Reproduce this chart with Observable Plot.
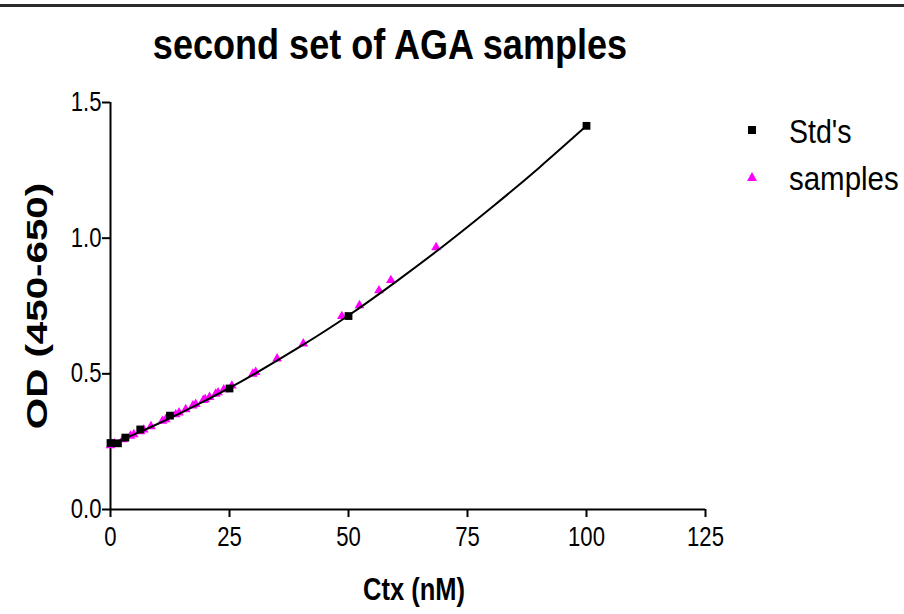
<!DOCTYPE html>
<html>
<head>
<meta charset="utf-8">
<script src="https://cdn.jsdelivr.net/npm/d3@7"></script>
<script src="https://cdn.jsdelivr.net/npm/@observablehq/plot@0.6"></script>
<style>
  html, body { margin: 0; padding: 0; background: #fff; }
  #wrap { position: relative; width: 904px; height: 614px; overflow: hidden; font-family: "Liberation Sans", Arial, sans-serif; color: #000; }
  #topline { position: absolute; left: 0; top: 4px; width: 904px; height: 0; border-top: 3px solid #2b2b2b; }
  #chart { position: absolute; left: 0; top: 0; }
  .lbl { position: absolute; white-space: nowrap; line-height: 1; }
  #title { font-weight: bold; font-size: 42px; }
  #xlabel { font-weight: bold; font-size: 31px; }
  #ylabel { font-weight: bold; font-size: 29px; }
  .legtext { font-size: 34px; }
</style>
</head>
<body>
<div id="wrap">
  <div id="topline"></div>
  <div id="chart"></div>
</div>
<script>
const titleText = "second set of AGA samples";
const xLabel = "Ctx (nM)";
const yLabel = "OD (450-650)";
const seriesNames = ["Std's", "samples"];

// Standards
const stdX = [0, 1.5625, 3.125, 6.25, 12.5, 25, 50, 100];
const stdY = [0.245, 0.244, 0.265, 0.295, 0.346, 0.446, 0.713, 1.414];

// Samples (interpolated off the standard curve)
const smpX = [0.0, 0.8, 2.6, 4.2, 4.9, 6.3, 7.0, 8.5, 10.9, 11.6, 13.7, 14.4, 15.8, 17.3, 17.9, 19.5, 19.9, 20.8, 22.1, 22.6, 23.8, 25.5, 29.9, 30.5, 35.0, 40.5, 48.6, 52.3, 56.4, 58.9, 68.4];
const smpY = [0.236, 0.243, 0.258, 0.271, 0.277, 0.288, 0.294, 0.306, 0.326, 0.332, 0.350, 0.357, 0.369, 0.383, 0.388, 0.403, 0.406, 0.414, 0.426, 0.431, 0.442, 0.456, 0.500, 0.506, 0.556, 0.611, 0.712, 0.752, 0.807, 0.845, 0.966];

// Fitted standard curve
const curveX = [0, 5, 10, 15, 20, 25, 30, 40, 50, 60, 70, 80, 90, 100];
const curveY = [0.240, 0.277, 0.316, 0.358, 0.402, 0.448, 0.497, 0.602, 0.715, 0.840, 0.972, 1.112, 1.259, 1.414];

const xTicks = [0, 25, 50, 75, 100, 125];
const yTicks = [0.0, 0.5, 1.0, 1.5];

const stds = stdX.map((x, i) => ({x, y: stdY[i]}));
const samples = smpX.map((x, i) => ({x, y: smpY[i]}));
const curve = curveX.map((x, i) => ({x, y: curveY[i]}));

const plot = Plot.plot({
  width: 904,
  height: 614,
  marginLeft: 110,
  marginRight: 199,
  marginTop: 102,
  marginBottom: 105,
  style: {fontFamily: "'Liberation Sans', Arial, sans-serif", fontSize: "27px", color: "#000", background: "transparent"},
  x: {domain: [0, 125]},
  y: {domain: [0, 1.5]},
  marks: [
    Plot.axisX({ticks: xTicks, tickSize: 8, tickPadding: 9, tickFormat: d => String(d), fontSize: 27, label: null, strokeWidth: 2}),
    Plot.axisY({ticks: yTicks, tickSize: 8, tickPadding: 1, tickFormat: d3.format(".1f"), fontSize: 27, label: null, strokeWidth: 2}),
    Plot.ruleY([0], {stroke: "#000", strokeWidth: 2}),
    Plot.ruleX([0], {stroke: "#000", strokeWidth: 2}),
    Plot.dot(samples, {x: "x", y: "y", symbol: "triangle", r: 3.6, fill: "#ff00ff", stroke: "none"}),
    Plot.line(curve, {x: "x", y: "y", curve: "natural", stroke: "#000", strokeWidth: 2}),
    Plot.dot(stds, {x: "x", y: "y", symbol: "square", r: 4.4, fill: "#000", stroke: "none"})
  ]
});
// condense tick label glyphs horizontally (the reference uses a narrow face)
plot.querySelectorAll('g[aria-label$="tick label"] text').forEach(t => {
  const tr = t.getAttribute("transform") || "";
  t.setAttribute("transform", tr + " scale(0.82,1)");
});
document.getElementById("chart").appendChild(plot);

const wrap = document.getElementById("wrap");
function addLabel(id, text, cx, cy, opts = {}) {
  const d = document.createElement("div");
  d.className = "lbl";
  if (id) d.id = id;
  if (opts.cls) d.classList.add(opts.cls);
  d.textContent = text;
  wrap.appendChild(d);
  const w = d.offsetWidth;
  let sx = 1;
  if (opts.fitWidth) sx = opts.fitWidth / w;
  d.style.left = cx + "px";
  d.style.top = cy + "px";
  const rot = opts.rotate ? ` rotate(${opts.rotate}deg)` : "";
  const ax = opts.anchorLeft ? "0" : "-50%";
  d.style.transformOrigin = "0 0";
  d.style.transform = `${rot} scaleX(${sx}) translate(${ax}, -50%)`;
  return d;
}

addLabel("title", titleText, 390, 45, {fitWidth: 474});
addLabel("xlabel", xLabel, 414, 589, {fitWidth: 102});
addLabel("ylabel", yLabel, 37, 306, {rotate: -90, fitWidth: 246});

// Legend
const legSymbols = [
  '<rect x="2" y="2" width="8" height="8" fill="#000"/>',
  '<polygon points="6,1 11,10 1,10" fill="#ff00ff"/>'
];
const legY = [130, 177];
const legW = [63, 110];
seriesNames.forEach((name, i) => {
  const s = document.createElementNS("http://www.w3.org/2000/svg", "svg");
  s.setAttribute("width", 12); s.setAttribute("height", 12);
  s.style.position = "absolute";
  s.style.left = (752 - 6) + "px";
  s.style.top = (legY[i] - 6) + "px";
  s.innerHTML = legSymbols[i];
  wrap.appendChild(s);
  addLabel(null, name, 789, legY[i] + 1, {anchorLeft: true, cls: "legtext", fitWidth: legW[i]});
});
</script>
</body>
</html>
